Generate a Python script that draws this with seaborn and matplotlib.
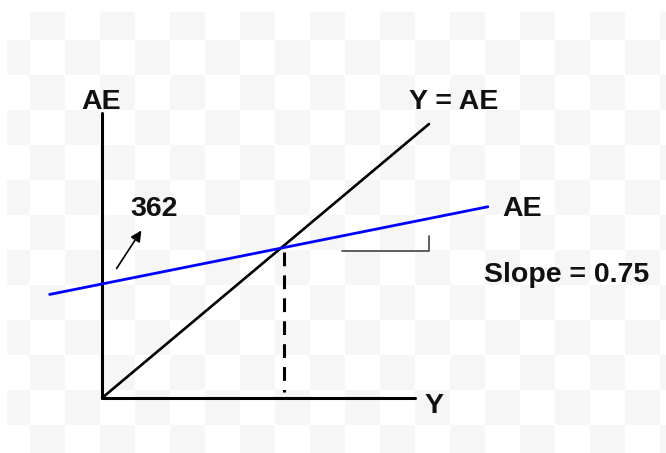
import numpy as np
import seaborn as sns
import matplotlib.pyplot as plt

# Diagram values, in chart units (origin where the two axes meet)
axis_y_len = 104          # height of the AE axis
axis_x_len = 95.7         # length of the Y axis

diag_Y = [0, 100]         # 45 degree line Y = AE
diag_AE = [0, 100]

ae_Y = [-16, 118]         # aggregate expenditure line
ae_AE = [37.8, 69.8]

eq_Y = [55.7, 55.7]       # dashed drop line at equilibrium
eq_AE = [53.3, 2.2]

slope_Y = [73.4, 100, 100]   # small slope marker
slope_AE = [53.6, 53.6, 59.1]

arrow_tail = (4.0, 46.4)
arrow_head = (12.5, 62.0)

labels = ["AE", "Y = AE", "AE", "Slope = 0.75", "362", "Y"]
label_Y = [-0.3, 107.6, 128.4, 142.2, 15.9, 101.5]
label_AE = [105.5, 105.5, 66.4, 42.3, 66.4, -5.5]

sns.set_theme(style="white")
plt.rcParams['font.family'] = ['Liberation Sans', 'DejaVu Sans']

W, H = 666, 453
fig = plt.figure(figsize=(W / 100, H / 100), dpi=100)

# transparent-look checkerboard behind the drawing
bg = fig.add_axes([0, 0, 1, 1])
yy, xx = np.mgrid[0:H, 0:W]
cells = ((xx + 5) // 35 + (yy - 5) // 35) % 2
img = np.where(cells == 1, 0.961, 1.0)
img[(xx < 7) | (yy < 12)] = 1.0
bg.imshow(img, cmap="gray", vmin=0, vmax=1, extent=(0, W, H, 0),
          interpolation="nearest", aspect="auto")
bg.set_axis_off()

ax = fig.add_axes([0, 0, 1, 1])
ax.patch.set_alpha(0)
ax.set_xlim(-31.19, 172.48)
ax.set_ylim(-20.07, 145.26)
ax.set_axis_off()

# axes of the diagram
sns.lineplot(x=[0, 0], y=[0, axis_y_len], ax=ax, color="black", lw=2.2,
             estimator=None, sort=False)
sns.lineplot(x=[0, axis_x_len], y=[0, 0], ax=ax, color="black", lw=2.2,
             estimator=None, sort=False)

sns.lineplot(x=diag_Y, y=diag_AE, ax=ax, color="black", lw=1.9,
             estimator=None, sort=False)
sns.lineplot(x=ae_Y, y=ae_AE, ax=ax, color="#0000ff", lw=2.0,
             estimator=None, sort=False)
ax.plot(eq_Y, eq_AE, color="black", lw=2.2, linestyle=(0, (4.5, 3)))
ax.plot(slope_Y, slope_AE, color="#444444", lw=1.2)

ax.annotate("", xy=arrow_head, xytext=arrow_tail,
            arrowprops=dict(arrowstyle="-|>", color="black", lw=1.2,
                            mutation_scale=16))

for txt, x, y in zip(labels, label_Y, label_AE):
    ax.text(x, y, txt, ha="center", va="baseline", fontsize=20.5,
            fontweight="bold", color="#111111")

fig.savefig("out.png", dpi=100)
